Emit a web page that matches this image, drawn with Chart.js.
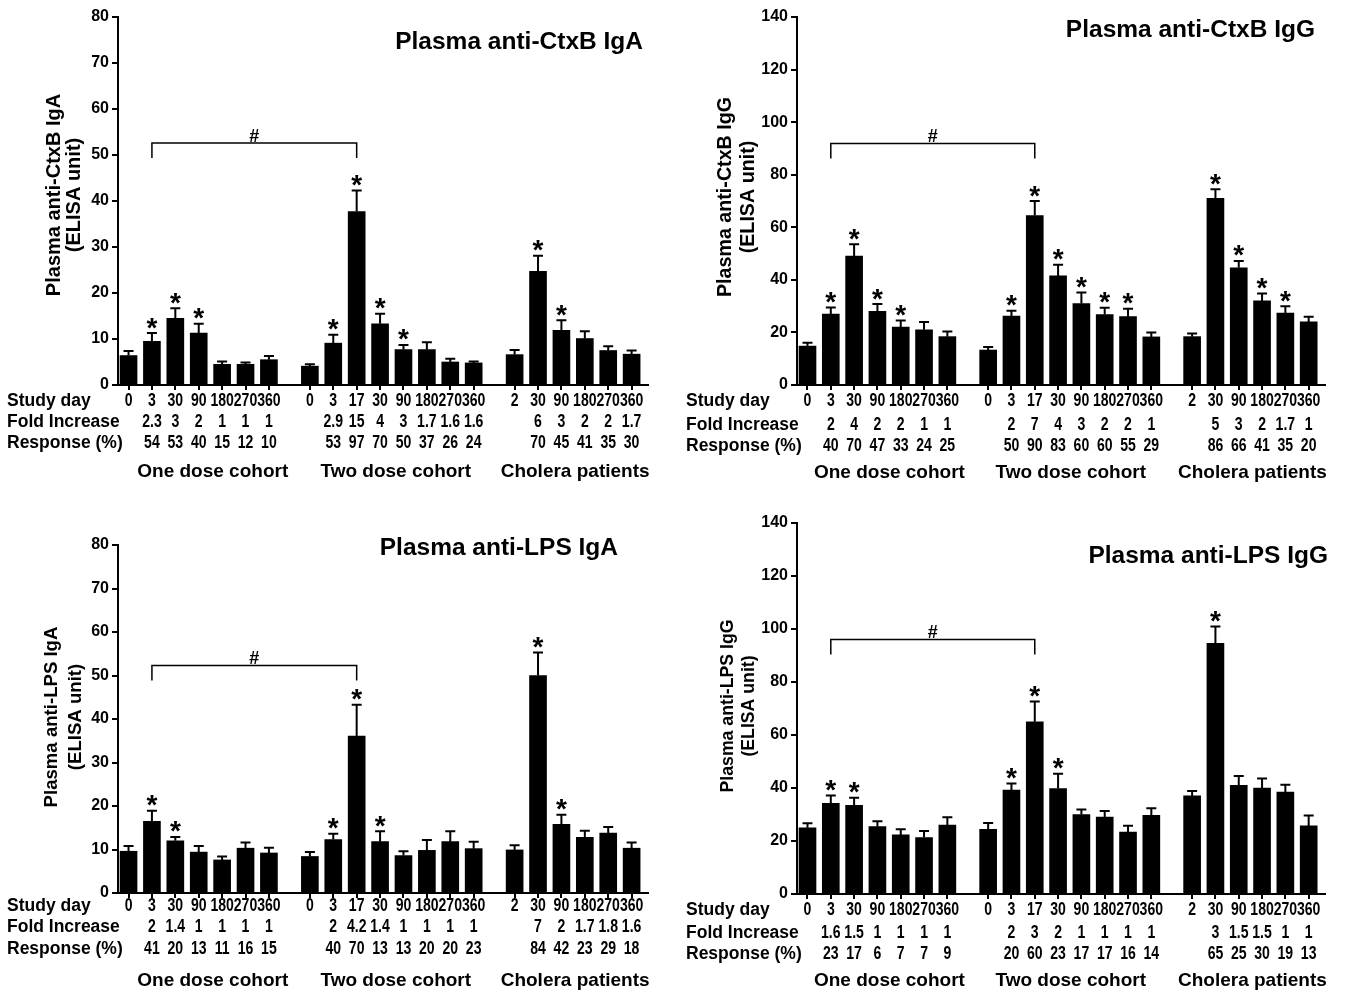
<!DOCTYPE html>
<html><head><meta charset="utf-8">
<script src="https://cdn.jsdelivr.net/npm/chart.js@4.4.1/dist/chart.umd.min.js"></script>
<style>
html,body{margin:0;padding:0;background:#fff;}
body{width:1350px;height:994px;position:relative;overflow:hidden;}
canvas{position:absolute;display:block;}
</style>
</head><body>
<canvas id="c1" style="left:0;top:0"></canvas>
<canvas id="c2" style="left:665px;top:0"></canvas>
<canvas id="c3" style="left:0;top:497px"></canvas>
<canvas id="c4" style="left:665px;top:497px"></canvas>
<script>
// ---------- DATA ----------
const groupNames = ["One dose cohort", "Two dose cohort", "Cholera patients"];
const groupSizes = [7, 8, 6];
const studyDays = ["0","3","30","90","180","270","360", "0","3","17","30","90","180","270","360", "2","30","90","180","270","360"];
const rowLabels = ["Study day", "Fold Increase", "Response (%)"];

// Plasma anti-CtxB IgA
const ctxbIgaMean = [6.4, 9.5, 14.5, 11.3, 4.5, 4.5, 5.5, 4.1, 9.1, 37.7, 13.3, 7.7, 7.7, 5.0, 4.8, 6.6, 24.7, 11.9, 10.1, 7.5, 6.7];
const ctxbIgaSem  = [1.0, 1.8, 2.2, 2.0, 0.6, 0.4, 0.8, 0.4, 1.8, 4.6, 2.2, 1.0, 1.6, 0.7, 0.3, 1.0, 3.4, 2.2, 1.6, 0.9, 0.8];
const ctxbIgaStar = [0,1,1,1,0,0,0, 0,1,1,1,1,0,0,0, 0,1,1,0,0,0];
const ctxbIgaFold = ["","2.3","3","2","1","1","1", "","2.9","15","4","3","1.7","1.6","1.6", "","6","3","2","2","1.7"];
const ctxbIgaResp = ["","54","53","40","15","12","10", "","53","97","70","50","37","26","24", "","70","45","41","35","30"];
const ctxbIgaBracket = [1, 9, 52.6];

// Plasma anti-CtxB IgG
const ctxbIggMean = [14.8, 27, 49, 28, 22, 21, 18.4, 13.3, 26.2, 64.5, 41.5, 31, 26.8, 26, 18.3, 18.4, 71, 44.6, 32, 27.4, 24];
const ctxbIggSem  = [1.3, 2.5, 4.5, 2.8, 2.5, 3.0, 2.0, 1.2, 2.0, 5.5, 4.2, 4.2, 2.6, 3.0, 1.7, 1.2, 3.5, 2.6, 2.8, 2.6, 2.0];
const ctxbIggStar = [0,1,1,1,1,0,0, 0,1,1,1,1,1,1,0, 0,1,1,1,1,0];
const ctxbIggFold = ["","2","4","2","2","1","1", "","2","7","4","3","2","2","1", "","5","3","2","1.7","1"];
const ctxbIggResp = ["","40","70","47","33","24","25", "","50","90","83","60","60","55","29", "","86","66","41","35","20"];
const ctxbIggBracket = [1, 9, 91.9];

// Plasma anti-LPS IgA
const lpsIgaMean = [9.6, 16.5, 12, 9.4, 7.6, 10.3, 9.2, 8.4, 12.3, 36.1, 11.8, 8.6, 9.8, 11.8, 10.2, 9.9, 50, 15.8, 12.8, 13.8, 10.3];
const lpsIgaSem  = [1.2, 2.4, 0.9, 1.4, 0.8, 1.3, 1.2, 1.0, 1.3, 7.2, 2.4, 1.0, 2.4, 2.4, 1.6, 1.1, 5.3, 2.2, 1.5, 1.4, 1.3];
const lpsIgaStar = [0,1,1,0,0,0,0, 0,1,1,1,0,0,0,0, 0,1,1,0,0,0];
const lpsIgaFold = ["","2","1.4","1","1","1","1", "","2","4.2","1.4","1","1","1","1", "","7","2","1.7","1.8","1.6"];
const lpsIgaResp = ["","41","20","13","11","16","15", "","40","70","13","13","20","20","23", "","84","42","23","29","18"];
const lpsIgaBracket = [1, 9, 52.3];

// Plasma anti-LPS IgG
const lpsIggMean = [25, 34.2, 33.5, 25.4, 22.3, 21.3, 26, 24.4, 39.2, 65, 39.8, 30, 29, 23.4, 29.7, 37, 94.6, 41, 40, 38.5, 25.7];
const lpsIggSem  = [1.7, 3.0, 2.8, 2.1, 2.1, 2.5, 3.0, 2.4, 2.5, 7.6, 5.6, 1.9, 2.3, 2.4, 2.7, 1.9, 6.3, 3.5, 3.6, 2.7, 3.9];
const lpsIggStar = [0,1,1,0,0,0,0, 0,1,1,1,0,0,0,0, 0,1,0,0,0,0];
const lpsIggFold = ["","1.6","1.5","1","1","1","1", "","2","3","2","1","1","1","1", "","3","1.5","1.5","1","1"];
const lpsIggResp = ["","23","17","6","7","7","9", "","20","60","23","17","17","16","14", "","65","25","30","19","13"];
const lpsIggBracket = [1, 9, 96];

// ---------- LAYOUT ----------
const GAP = 1.75;
function barPositions(sizes){
  const out = []; let p = 0;
  sizes.forEach(n => { for (let k = 0; k < n; k++) out.push(p + k); p += n - 1 + GAP; });
  return out;
}
const POS = barPositions(groupSizes);
const FONT = '"Liberation Sans", Arial, Helvetica, sans-serif';

function drawText(ctx, s, x, y, size, o = {}){
  ctx.save();
  ctx.font = `bold ${size}px ${FONT}`;
  ctx.fillStyle = '#000';
  ctx.textBaseline = o.baseline || 'middle';
  ctx.textAlign = 'left';
  const w = ctx.measureText(s).width;
  ctx.translate(x, y);
  if (o.rot) ctx.rotate(o.rot);
  ctx.scale(o.sx || 1, 1);
  const a = o.align || 'center';
  ctx.fillText(s, a === 'center' ? -w/2 : (a === 'right' ? -w : 0), 0);
  ctx.restore();
}
function drawGlyph(ctx, s, cx, cy, size){
  ctx.save();
  ctx.font = `bold ${size}px ${FONT}`;
  ctx.fillStyle = '#000';
  ctx.textAlign = 'center';
  ctx.textBaseline = 'alphabetic';
  const m = ctx.measureText(s);
  ctx.fillText(s, cx, cy + (m.actualBoundingBoxAscent - m.actualBoundingBoxDescent)/2);
  ctx.restore();
}

function makePanel(P){
  const cv = document.getElementById(P.id);
  cv.width = P.w; cv.height = P.h;
  const plugin = {
    id: 'annot' + P.id,
    afterDraw(chart){
      const ctx = chart.ctx, xs = chart.scales.x, ys = chart.scales.y, a = chart.chartArea;
      // y tick labels
      for (let v = 0; v <= P.ymax + 1e-9; v += P.step)
        drawText(ctx, String(v), a.left - 9, ys.getPixelForValue(v), 16, {align:'right'});
      // error bars + stars
      ctx.save();
      ctx.strokeStyle = '#000'; ctx.lineWidth = 2;
      P.mean.forEach((m, i) => {
        const x = xs.getPixelForValue(POS[i]);
        const y0 = ys.getPixelForValue(m), y1 = ys.getPixelForValue(m + P.sem[i]);
        ctx.beginPath();
        ctx.moveTo(x, y0); ctx.lineTo(x, y1);
        ctx.moveTo(x - 5, y1); ctx.lineTo(x + 5, y1);
        ctx.stroke();
        if (P.star[i]) drawGlyph(ctx, '*', x, y1 - 10, 28);
      });
      // bracket
      const bx0 = xs.getPixelForValue(POS[P.bracket[0]]), bx1 = xs.getPixelForValue(POS[P.bracket[1]]);
      const by = ys.getPixelForValue(P.bracket[2]);
      ctx.lineWidth = 1.5;
      ctx.beginPath();
      ctx.moveTo(bx0, by + 15); ctx.lineTo(bx0, by); ctx.lineTo(bx1, by); ctx.lineTo(bx1, by + 15);
      ctx.stroke();
      ctx.restore();
      drawGlyph(ctx, '#', (bx0 + bx1)/2, by - 8, 18);
      // title
      drawText(ctx, P.title, P.titleRight, P.titleBase, 24.5, {align:'right', baseline:'alphabetic'});
      // y axis title
      drawText(ctx, P.ytitle, P.ytx[0], P.yty, P.yts, {rot: -Math.PI/2});
      drawText(ctx, '(ELISA unit)', P.ytx[1], P.yty, P.yts, {rot: -Math.PI/2});
      // table rows
      const rows = [studyDays, P.fold, P.resp];
      rows.forEach((row, r) => {
        const y = a.bottom + P.rows[r];
        drawText(ctx, rowLabels[r], P.labelX, y, 17.5, {align:'left'});
        row.forEach((s, i) => { if (s !== '') drawText(ctx, s, xs.getPixelForValue(POS[i]), y, 18, {sx: 0.78}); });
      });
      // group labels
      let start = 0;
      groupSizes.forEach((n, g) => {
        const xa = xs.getPixelForValue(POS[start]), xb = xs.getPixelForValue(POS[start + n - 1]);
        drawText(ctx, groupNames[g], (xa + xb)/2 + P.groupDx[g], a.bottom + P.rows[3], 19);
        start += n;
      });
    }
  };
  new Chart(cv, {
    type: 'bar',
    data: { datasets: [{
      data: P.mean.map((v, i) => ({x: POS[i], y: v})),
      backgroundColor: '#000', borderWidth: 0, barThickness: 17
    }]},
    options: {
      responsive: false, animation: false, devicePixelRatio: 1,
      layout: { padding: { left: 0, top: P.area[2], right: P.w - P.area[1], bottom: 0 } },
      plugins: { legend: {display: false}, tooltip: {enabled: false} },
      scales: {
        x: {
          type: 'linear', min: -0.45, max: 22.2, offset: false,
          afterBuildTicks: s => { s.ticks = POS.map(v => ({value: v})); },
          afterFit: s => { s.height = P.h - P.area[3]; },
          ticks: { display: false },
          grid: { offset: false, drawOnChartArea: false, drawTicks: true, tickLength: 5, color: '#000', lineWidth: 2 },
          border: { display: true, color: '#000', width: 2 }
        },
        y: {
          min: 0, max: P.ymax,
          afterFit: s => { s.width = P.area[0]; },
          ticks: { display: false, stepSize: P.step },
          grid: { drawOnChartArea: false, drawTicks: true, tickLength: 6, color: '#000', lineWidth: 2 },
          border: { display: true, color: '#000', width: 2 }
        }
      }
    },
    plugins: [plugin]
  });
}

makePanel({ id:'c1', w:665, h:497, area:[118, 648, 17, 385], ymax:80, step:10,
  mean: ctxbIgaMean, sem: ctxbIgaSem, star: ctxbIgaStar, fold: ctxbIgaFold, resp: ctxbIgaResp, bracket: ctxbIgaBracket,
  title:'Plasma anti-CtxB IgA', titleRight:643, titleBase:49,
  ytitle:'Plasma anti-CtxB IgA', ytx:[54, 74], yty:195, yts:20,
  rows:[16, 37, 58, 87], labelX:7, groupDx:[14, 4, 2] });

makePanel({ id:'c2', w:685, h:497, area:[132, 660, 17, 385], ymax:140, step:20,
  mean: ctxbIggMean, sem: ctxbIggSem, star: ctxbIggStar, fold: ctxbIggFold, resp: ctxbIggResp, bracket: ctxbIggBracket,
  title:'Plasma anti-CtxB IgG', titleRight:650, titleBase:37,
  ytitle:'Plasma anti-CtxB IgG', ytx:[61, 84], yty:197, yts:19.7,
  rows:[16.5, 40, 61.5, 88], labelX:21, groupDx:[12, 1, 2] });

makePanel({ id:'c3', w:665, h:497, area:[118, 648, 48, 396], ymax:80, step:10,
  mean: lpsIgaMean, sem: lpsIgaSem, star: lpsIgaStar, fold: lpsIgaFold, resp: lpsIgaResp, bracket: lpsIgaBracket,
  title:'Plasma anti-LPS IgA', titleRight:618, titleBase:58,
  ytitle:'Plasma anti-LPS IgA', ytx:[52, 76], yty:220, yts:18.6,
  rows:[13, 34, 56.5, 87.5], labelX:7, groupDx:[14, 4, 2] });

makePanel({ id:'c4', w:685, h:497, area:[132, 660, 26, 397], ymax:140, step:20,
  mean: lpsIggMean, sem: lpsIggSem, star: lpsIggStar, fold: lpsIggFold, resp: lpsIggResp, bracket: lpsIggBracket,
  title:'Plasma anti-LPS IgG', titleRight:663, titleBase:66,
  ytitle:'Plasma anti-LPS IgG', ytx:[63, 84], yty:209, yts:17.7,
  rows:[16, 39.5, 60, 86.5], labelX:21, groupDx:[12, 1, 2] });
</script>
</body></html>
